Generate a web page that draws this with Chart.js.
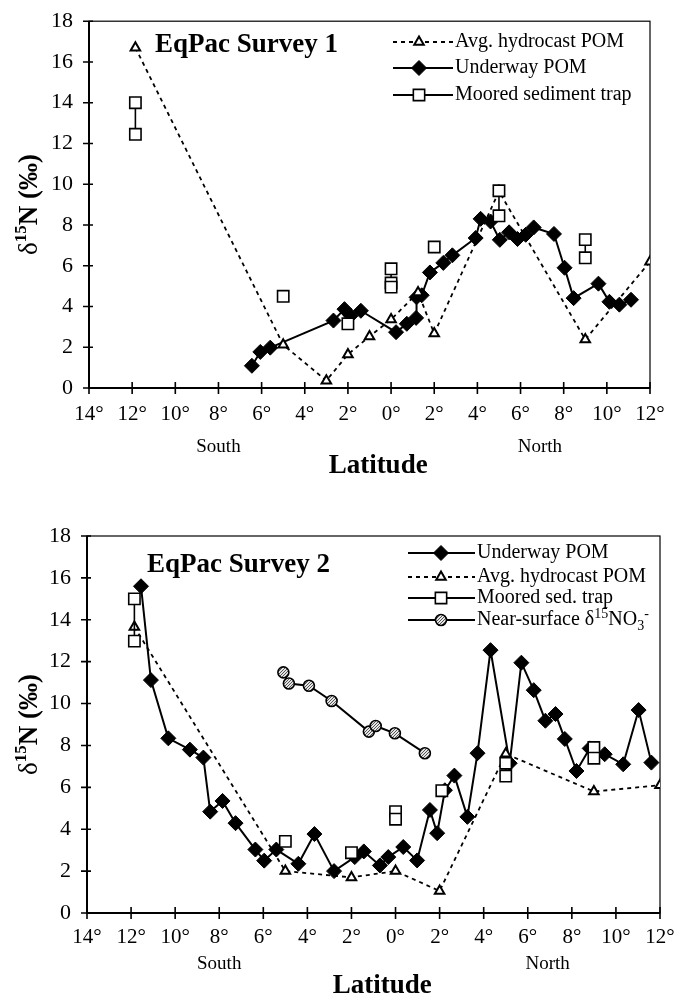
<!DOCTYPE html>
<html>
<head>
<meta charset="utf-8">
<script src="https://cdn.jsdelivr.net/npm/chart.js@4/dist/chart.umd.min.js"></script>
<style>
  html, body { margin: 0; padding: 0; background: #fff; }
  #wrap { position: relative; width: 679px; height: 995px; overflow: hidden; }
  canvas { position: absolute; left: 0; }
</style>
</head>
<body>
<div id="wrap">
  <canvas id="survey1" width="679" height="490" style="top:0"></canvas>
  <canvas id="survey2" width="679" height="505" style="top:490px"></canvas>
</div>
<script>
// --- axis ticks ---
const xTickValues = [-14, -12, -10, -8, -6, -4, -2, 0, 2, 4, 6, 8, 10, 12];
const xTickLabels = ['14°', '12°', '10°', '8°', '6°', '4°', '2°', '0°', '2°', '4°', '6°', '8°', '10°', '12°'];
const yTickValues = [0, 2, 4, 6, 8, 10, 12, 14, 16, 18];

// --- Survey 1 (south = negative latitude) ---
const uw1Lat = [-6.45, -6.06, -5.6, -2.67, -2.16, -1.87, -1.4, 0.23, 0.73, 1.16, 1.18, 1.42, 1.8, 2.42, 2.84, 3.92, 4.15, 4.61, 5.04, 5.47, 5.86, 6.24, 6.61, 7.55, 8.04, 8.46, 9.61, 10.12, 10.58, 11.12];
const uw1Val = [1.09, 1.77, 1.98, 3.31, 3.87, 3.55, 3.79, 2.74, 3.15, 3.44, 4.45, 4.55, 5.67, 6.14, 6.51, 7.36, 8.3, 8.17, 7.27, 7.64, 7.31, 7.52, 7.88, 7.56, 5.9, 4.41, 5.12, 4.23, 4.09, 4.33];
const hc1Lat = [-11.85, -5, -3, -2, -1, 0, 1.25, 2, 5, 9, 12];
const hc1Val = [16.7, 2.12, 0.36, 1.65, 2.53, 3.36, 4.69, 2.67, 9.65, 2.38, 6.2];
// null values break the trap line between stations
const sed1Lat = [-11.85, -11.85, -8, -5, -3, -2, -1, 0, 0, 0, 1, 2, 3, 5, 5, 7, 9, 9];
const sed1Val = [14.0, 12.45, null, 4.5, null, 3.15, null, 5.85, 5.15, 4.95, null, 6.92, null, 9.68, 8.45, null, 7.28, 6.39];

// --- Survey 2 ---
const uw2Lat = [-11.55, -11.1, -10.31, -9.33, -8.72, -8.41, -7.85, -7.26, -6.36, -5.96, -5.41, -4.41, -3.68, -2.79, -1.85, -1.44, -0.71, -0.33, 0.35, 0.98, 1.56, 1.89, 2.24, 2.67, 3.26, 3.72, 4.31, 5.18, 5.71, 6.27, 6.8, 7.26, 7.68, 8.21, 8.81, 9.49, 10.33, 11.03, 11.61];
const uw2Val = [15.6, 11.12, 8.34, 7.8, 7.42, 4.84, 5.35, 4.29, 3.03, 2.5, 3.03, 2.35, 3.77, 2.0, 2.67, 2.94, 2.27, 2.67, 3.15, 2.51, 4.92, 3.81, 5.86, 6.56, 4.59, 7.63, 12.55, 7.15, 11.95, 10.64, 9.18, 9.5, 8.31, 6.78, 7.86, 7.58, 7.1, 9.69, 7.18];
const hc2Lat = [-11.85, -5, -2, 0, 2, 5, 9, 12];
const hc2Val = [13.66, 2.0, 1.7, 2.0, 1.05, 7.6, 5.8, 6.1];
const sed2Lat = [-11.85, -11.85, -8, -5, -3, -2, -1, 0, 0, 1, 2.1, 3, 5, 5, 7, 9, 9];
const sed2Val = [15.0, 12.98, null, 3.42, null, 2.88, null, 4.84, 4.48, null, 5.84, null, 7.15, 6.54, null, 7.9, 7.39];
const no3Lat = [-5.09, -4.84, -3.93, -2.9, -1.21, -0.9, -0.03, 1.33];
const no3Val = [11.49, 10.96, 10.85, 10.12, 8.66, 8.93, 8.58, 7.63];

const SERIF = "'Liberation Serif', 'DejaVu Serif', serif";

function pts(lat, val) {
    return lat.map((x, i) => ({ x: x, y: val[i] }));
}

// grey speckled fill for the nitrate circles
function speckle() {
    const c = document.createElement('canvas');
    c.width = 3; c.height = 3;
    const g = c.getContext('2d');
    g.fillStyle = '#e4e4e4'; g.fillRect(0, 0, 3, 3);
    g.fillStyle = '#555';
    g.fillRect(0, 0, 1, 1); g.fillRect(2, 1, 1, 1); g.fillRect(1, 2, 1, 1);
    return g.createPattern(c, 'repeat');
}

const styles = {
    underway: { pointStyle: 'rectRot', pointRadius: 7.5, pointBackgroundColor: '#000', pointBorderColor: '#000', pointBorderWidth: 1, borderColor: '#000', borderWidth: 2 },
    hydro: { pointStyle: 'triangle', pointRadius: 5.5, pointBackgroundColor: '#fff', pointBorderColor: '#000', pointBorderWidth: 2, borderColor: '#000', borderWidth: 1.8, borderDash: [4, 4] },
    sed: { pointStyle: 'rect', pointRadius: 8, pointBackgroundColor: '#fff', pointBorderColor: '#000', pointBorderWidth: 1.6, borderColor: '#000', borderWidth: 1.6 },
    no3: { pointStyle: 'circle', pointRadius: 5.5, pointBackgroundColor: speckle(), pointBorderColor: '#000', pointBorderWidth: 1.6, borderColor: '#000', borderWidth: 2 }
};

function ds(label, data, style) {
    return Object.assign({ label: label, data: data, showLine: true, spanGaps: false, fill: false, tension: 0 }, style);
}

function drawMarker(ctx, d, x, y) {
    ctx.save();
    ctx.setLineDash([]);
    ctx.fillStyle = d.pointBackgroundColor;
    ctx.strokeStyle = d.pointBorderColor;
    ctx.lineWidth = d.pointBorderWidth;
    Chart.helpers.drawPoint(ctx, { pointStyle: d.pointStyle, radius: d.pointRadius, rotation: 0, borderWidth: d.pointBorderWidth }, x, y);
    ctx.restore();
}

// frame, crossing ticks and all the free text of a panel
const panelDecor = {
    id: 'panelDecor',
    beforeDatasetsDraw(chart) {
        const { ctx, chartArea: a, scales: { x, y } } = chart;
        ctx.save();
        ctx.strokeStyle = '#000';
        ctx.lineWidth = 1.2;
        ctx.strokeRect(a.left, a.top, a.right - a.left, a.bottom - a.top);
        ctx.lineWidth = 2;
        ctx.beginPath();
        ctx.moveTo(a.left, a.top); ctx.lineTo(a.left, a.bottom); ctx.lineTo(a.right, a.bottom);
        ctx.stroke();
        ctx.lineWidth = 1.6;
        ctx.beginPath();
        xTickValues.forEach(v => {
            const px = x.getPixelForValue(v);
            ctx.moveTo(px, a.bottom - 6); ctx.lineTo(px, a.bottom + 6);
        });
        yTickValues.forEach(v => {
            const py = y.getPixelForValue(v);
            ctx.moveTo(a.left - 6, py); ctx.lineTo(a.left + 4, py);
        });
        ctx.stroke();
        ctx.restore();
    },
    afterDraw(chart, args, o) {
        const { ctx, chartArea: a, scales: { x, y } } = chart;
        ctx.save();
        ctx.fillStyle = '#000';
        ctx.textBaseline = 'middle';

        // panel title
        ctx.font = 'bold 27px ' + SERIF;
        ctx.textAlign = 'left';
        ctx.fillText(o.title, o.titleX, o.titleY);

        // hemisphere words and axis title
        ctx.textAlign = 'center';
        ctx.font = '19px ' + SERIF;
        ctx.fillText('South', x.getPixelForValue(-8), a.bottom + o.hemiDy);
        ctx.fillText('North', x.getPixelForValue(6.9), a.bottom + o.hemiDy);
        ctx.font = 'bold 27px ' + SERIF;
        ctx.fillText('Latitude', x.getPixelForValue(-0.6), a.bottom + o.latDy);

        // rotated y title: δ15N (‰)
        ctx.save();
        ctx.translate(o.yTitleX, (a.top + a.bottom) / 2);
        ctx.rotate(-Math.PI / 2);
        ctx.textAlign = 'left';
        ctx.textBaseline = 'alphabetic';
        const parts = [
            { t: 'δ', f: '27px ' + SERIF, dy: 0 },
            { t: '15', f: 'bold 17px ' + SERIF, dy: -11 },
            { t: 'N (‰)', f: 'bold 27px ' + SERIF, dy: 0 }
        ];
        let w = 0;
        parts.forEach(p => { ctx.font = p.f; w += ctx.measureText(p.t).width; });
        let cx = -w / 2;
        parts.forEach(p => { ctx.font = p.f; ctx.fillText(p.t, cx, 9 + p.dy); cx += ctx.measureText(p.t).width; });
        ctx.restore();

        // legend
        ctx.textAlign = 'left';
        ctx.textBaseline = 'middle';
        o.legend.forEach(item => {
            const d = chart.data.datasets[item.ds];
            ctx.save();
            ctx.strokeStyle = d.borderColor;
            ctx.lineWidth = 1.8;
            ctx.setLineDash(d.borderDash || []);
            ctx.beginPath();
            ctx.moveTo(o.lx0, item.y); ctx.lineTo(o.lx1, item.y);
            ctx.stroke();
            ctx.restore();
            drawMarker(ctx, d, o.lxm, item.y);
            let tx = o.ltx;
            item.parts.forEach(p => {
                ctx.font = (p.s ? '14px ' : '20px ') + SERIF;
                ctx.fillText(p.t, tx, item.y + (p.s || 0));
                tx += ctx.measureText(p.t).width;
            });
        });
        ctx.restore();
    }
};

function baseOptions(geom, decor) {
    return {
        responsive: false,
        animation: false,
        layout: { padding: { left: 0, right: geom.right, top: geom.top, bottom: 0 } },
        plugins: { legend: { display: false }, tooltip: { enabled: false }, panelDecor: decor },
        scales: {
            x: {
                type: 'linear', min: -14, max: 12,
                afterFit: s => { s.height = geom.xh; },
                afterBuildTicks: s => { s.ticks = xTickValues.map(v => ({ value: v })); },
                grid: { display: false },
                border: { display: false },
                ticks: {
                    padding: geom.xpad,
                    color: '#000',
                    font: { family: SERIF, size: 21 },
                    maxRotation: 0, autoSkip: false,
                    callback: v => xTickLabels[xTickValues.indexOf(v)]
                }
            },
            y: {
                type: 'linear', min: 0, max: 18,
                afterFit: s => { s.width = geom.yw; },
                afterBuildTicks: s => { s.ticks = yTickValues.map(v => ({ value: v })); },
                grid: { display: false },
                border: { display: false },
                ticks: { padding: 8, color: '#000', font: { family: SERIF, size: 22 } }
            }
        }
    };
}

new Chart(document.getElementById('survey1'), {
    type: 'scatter',
    data: {
        datasets: [
            ds('Moored sediment trap', pts(sed1Lat, sed1Val), styles.sed),
            ds('Avg. hydrocast POM', pts(hc1Lat, hc1Val), styles.hydro),
            ds('Underway POM', pts(uw1Lat, uw1Val), styles.underway)
        ]
    },
    options: baseOptions({ right: 29, top: 18, xh: 102, yw: 89, xpad: 6 }, {
        title: 'EqPac Survey 1', titleX: 155, titleY: 45,
        hemiDy: 59, latDy: 78, yTitleX: 28,
        lx0: 393, lx1: 453, lxm: 419, ltx: 455,
        legend: [
            { ds: 1, y: 42, parts: [{ t: 'Avg. hydrocast POM' }] },
            { ds: 2, y: 68, parts: [{ t: 'Underway POM' }] },
            { ds: 0, y: 95, parts: [{ t: 'Moored sediment trap' }] }
        ]
    }),
    plugins: [panelDecor]
});

new Chart(document.getElementById('survey2'), {
    type: 'scatter',
    data: {
        datasets: [
            ds('Moored sed. trap', pts(sed2Lat, sed2Val), styles.sed),
            ds('Avg. hydrocast POM', pts(hc2Lat, hc2Val), styles.hydro),
            ds('Near-surface δ15NO3-', pts(no3Lat, no3Val), styles.no3),
            ds('Underway POM', pts(uw2Lat, uw2Val), styles.underway)
        ]
    },
    options: baseOptions({ right: 19, top: 46, xh: 82, yw: 87, xpad: 4 }, {
        title: 'EqPac Survey 2', titleX: 147, titleY: 75,
        hemiDy: 51, latDy: 73, yTitleX: 28,
        lx0: 408, lx1: 475, lxm: 441, ltx: 477,
        legend: [
            { ds: 3, y: 63, parts: [{ t: 'Underway POM' }] },
            { ds: 1, y: 87, parts: [{ t: 'Avg. hydrocast POM' }] },
            { ds: 0, y: 108, parts: [{ t: 'Moored sed. trap' }] },
            { ds: 2, y: 130, parts: [{ t: 'Near-surface δ' }, { t: '15', s: -6 }, { t: 'NO' }, { t: '3', s: 6 }, { t: '-', s: -6 }] }
        ]
    }),
    plugins: [panelDecor]
});
</script>
</body>
</html>
